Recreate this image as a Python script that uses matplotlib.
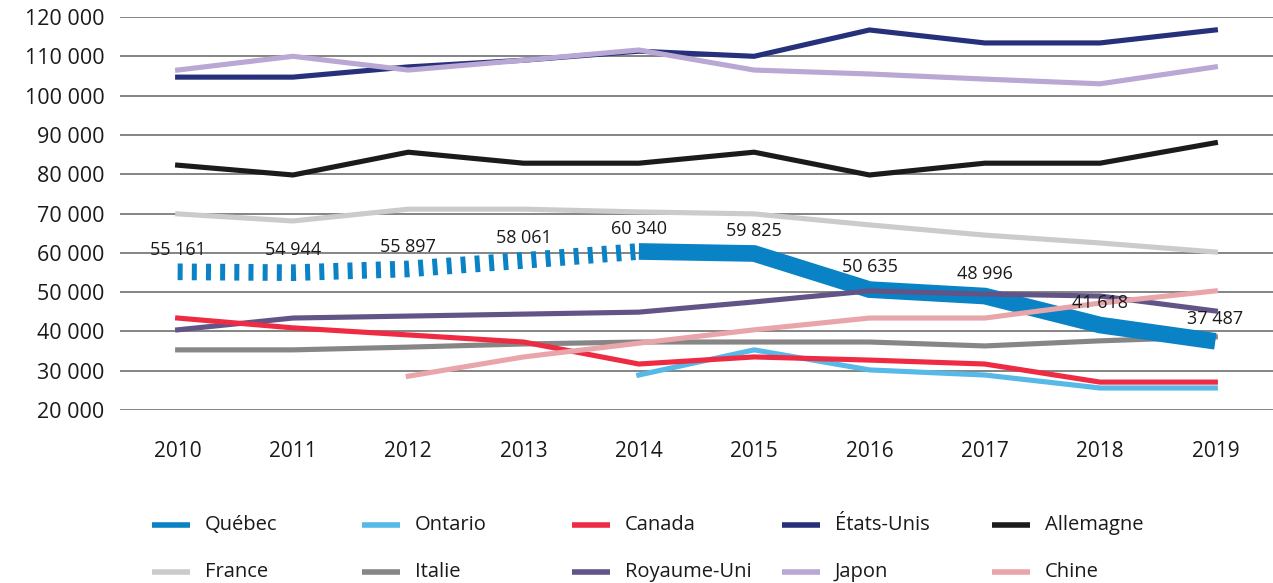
import matplotlib.pyplot as plt
from matplotlib.lines import Line2D
from matplotlib.ticker import FuncFormatter

plt.rcParams['font.family'] = ['Open Sans', 'DejaVu Sans']
plt.rcParams['font.weight'] = 'medium'

# Data
years = [2010, 2011, 2012, 2013, 2014, 2015, 2016, 2017, 2018, 2019]
quebec = [55161, 54944, 55897, 58061, 60340, 59825, 50635, 48996, 41618, 37487]
ontario_years = [2014, 2015, 2016, 2017, 2018, 2019]
ontario = [28900, 35300, 30200, 28900, 25600, 25600]
canada = [43400, 40900, 39100, 37300, 31700, 33500, 32700, 31700, 27100, 27100]
etats_unis = [104700, 104700, 107300, 109000, 111300, 110000, 116700, 113400, 113400, 116700]
allemagne = [82300, 79800, 85600, 82800, 82800, 85600, 79800, 82800, 82800, 88000]
france = [69900, 68100, 71100, 71100, 70400, 69900, 67100, 64500, 62500, 60200]
italie = [35300, 35300, 36000, 36800, 37300, 37300, 37300, 36300, 37600, 38600]
royaume_uni = [40400, 43400, 43900, 44400, 44900, 47500, 50300, 49500, 49000, 45200]
japon = [106500, 110000, 106500, 109000, 111600, 106500, 105500, 104200, 103000, 107300]
chine_years = [2012, 2013, 2014, 2015, 2016, 2017, 2018, 2019]
chine = [28600, 33500, 37000, 40400, 43400, 43400, 47200, 50300]

# split year for Québec: estimate (dashed) before, solid after
quebec_split = 4

colors = {
    'Québec': '#0a82c6',
    'Ontario': '#56b9e8',
    'Canada': '#ee2b43',
    'États-Unis': '#27307a',
    'Allemagne': '#1c1a1a',
    'France': '#cbcbcb',
    'Italie': '#868686',
    'Royaume-Uni': '#635488',
    'Japon': '#b9a7d4',
    'Chine': '#e8a6aa',
}

W, H = 1273, 583
fig = plt.figure(figsize=(W / 100, H / 100), dpi=100)
ax = fig.add_axes([120 / W, 1 - 410 / H, (W - 120) / W, 393 / H])

lw = 3.7
ax.plot(years, etats_unis, color=colors['États-Unis'], lw=lw, zorder=3)
ax.plot(years, japon, color=colors['Japon'], lw=lw, zorder=3)
ax.plot(years, allemagne, color=colors['Allemagne'], lw=lw, zorder=3)
ax.plot(years, france, color=colors['France'], lw=lw, zorder=3)
ax.plot(years, italie, color=colors['Italie'], lw=lw, zorder=3)
ax.plot(years, royaume_uni, color=colors['Royaume-Uni'], lw=lw, zorder=4)
ax.plot(years, canada, color=colors['Canada'], lw=lw, zorder=4)
ax.plot(ontario_years, ontario, color=colors['Ontario'], lw=lw, zorder=3)
ax.plot(chine_years, chine, color=colors['Chine'], lw=lw, zorder=5)

# Québec: thick band, dashed for the first years
ax.plot(years[:quebec_split + 1], quebec[:quebec_split + 1], color=colors['Québec'],
        lw=12, dashes=(0.3, 0.55), solid_capstyle='butt', dash_capstyle='butt', zorder=3)
ax.plot(years[quebec_split:], quebec[quebec_split:], color=colors['Québec'],
        lw=12, solid_capstyle='butt', solid_joinstyle='miter', zorder=3)

for x, v in zip(years, quebec):
    ax.annotate(f"{v:,}".replace(',', ' '), (x, v), xytext=(0, 16),
                textcoords='offset points', ha='center', va='center',
                fontsize=13, color='#1a1a1a', zorder=6)

ax.set_xlim(2009.5, 2019.5)
ax.set_ylim(20000, 120000)
ax.set_yticks(range(20000, 120001, 10000))
ax.yaxis.set_major_formatter(FuncFormatter(lambda v, p: f"{v:,.0f}".replace(',', ' ')))
ax.set_xticks(years)
ax.grid(axis='y', color='#6f6f6f', lw=1.2, zorder=0)
ax.set_axisbelow(True)
for s in ax.spines.values():
    s.set_visible(False)
ax.tick_params(axis='y', length=0, pad=11, labelsize=15.5, labelcolor='#1a1a1a')
ax.tick_params(axis='x', length=0, pad=22, labelsize=15, labelcolor='#1a1a1a')

# Legend drawn on a fixed grid
legend_rows = [['Québec', 'Ontario', 'Canada', 'États-Unis', 'Allemagne'],
               ['France', 'Italie', 'Royaume-Uni', 'Japon', 'Chine']]
col_x = [152, 362, 572, 782, 992]
row_y = [525, 572]
for r, row in enumerate(legend_rows):
    for c, name in enumerate(row):
        x0 = col_x[c]
        y0 = 1 - row_y[r] / H
        fig.add_artist(Line2D([x0 / W, (x0 + 38) / W], [y0, y0], color=colors[name],
                              lw=4, solid_capstyle='butt'))
        fig.text((x0 + 53) / W, y0, name, fontsize=14.5, va='center', ha='left',
                 color='#1a1a1a')

fig.savefig('out.png', dpi=100)
